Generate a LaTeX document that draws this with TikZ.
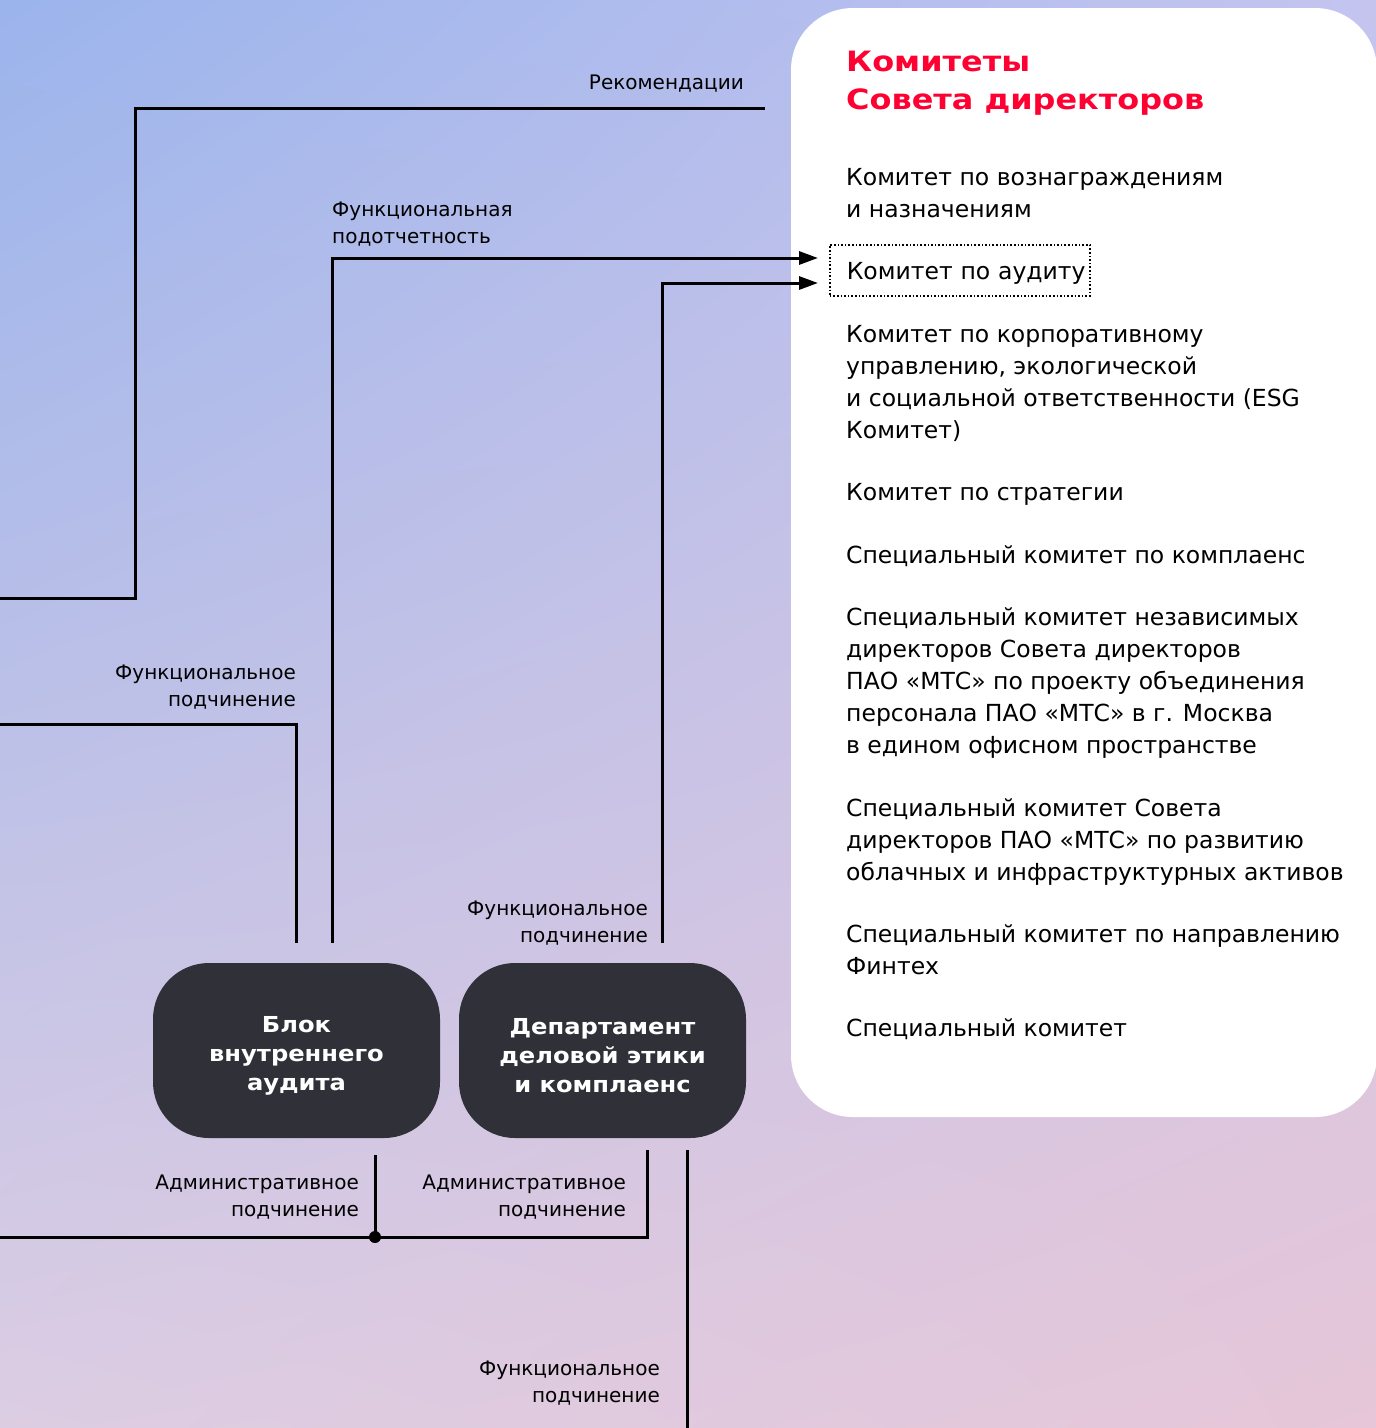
\documentclass[tikz,border=0pt]{standalone}
\usepackage{fontspec}
\setmainfont{DejaVu Sans}
\newfontfamily\widefont{DejaVu Sans}[FakeStretch=1.1]
\newfontfamily\titlefont{DejaVu Sans}[FakeStretch=1.14]
\usetikzlibrary{arrows.meta, shadings}

\definecolor{mtsred}{HTML}{FF0032}
\definecolor{unitgray}{HTML}{2F3038}
\definecolor{bgA}{HTML}{9BB4EC}
\definecolor{bgB}{HTML}{C4C4EF}
\definecolor{bgC}{HTML}{DCCDE3}
\definecolor{bgD}{HTML}{E6C6D8}

\newcommand{\fs}[2]{\fontsize{#1}{#2}\selectfont}
\newcommand{\topgap}{\rule{0pt}{26pt}}

\begin{document}
\begin{tikzpicture}[
    x=1pt, y=-1pt,
    link/.style={line width=3pt, black},
    tip/.style={-{Triangle[length=19pt,width=13pt]}},
    unitbox/.style={fill=unitgray, text=white, rounded corners=56pt, minimum width=287pt, minimum height=175pt, align=center,
      font=\widefont\bfseries\fs{22}{29}},
    lbl/.style={inner sep=0pt, align=right, font=\fs{20}{27}},
    item/.style={anchor=north west, inner sep=0pt, align=left, font=\fs{23.5}{32}},
    junction/.style={circle, fill=black, inner sep=0pt, minimum size=12pt}
  ]

    % Background and committee panel
    \useasboundingbox (0,0) rectangle (1376,1428);
    \shade[upper left=bgA, upper right=bgB, lower left=bgC, lower right=bgD] (0,0) rectangle (1376,1428);
    \fill[white, rounded corners=62pt] (791,8) rectangle (1377,1117);

    % Committees list
    \node[item, text=mtsred, font=\titlefont\bfseries\fs{28}{38}] (title) at (846,51) {Комитеты\\Совета директоров};
    \node[item] (c1) at (846,168.5) {Комитет по вознаграждениям\\и назначениям};
    \node[anchor=west, draw, line width=1.6pt, dash pattern=on 1.6pt off 2pt, inner xsep=17pt, inner ysep=0pt,
      minimum height=51pt, text width=226pt, text height=17pt, text depth=0pt, font=\fs{23.5}{32}]
      (auditcom) at (829,270.5) {\mbox{Комитет по аудиту}};
    \node[item] (c3) at (846,325.5) {Комитет по корпоративному\\управлению, экологической\\и социальной ответственности (ESG\\Комитет)};
    \node[item] (c4) at (846,483.5) {Комитет по стратегии};
    \node[item] (c5) at (846,545.5) {Специальный комитет по комплаенс};
    \node[item] (c6) at (846,607.5) {Специальный комитет независимых\\директоров Совета директоров\\ПАО «МТС» по проекту объединения\\персонала ПАО «МТС» в г. Москва\\в едином офисном пространстве};
    \node[item] (c7) at (846,798.5) {Специальный комитет Совета\\директоров ПАО «МТС» по развитию\\облачных и инфраструктурных активов};
    \node[item] (c8) at (846,924.5) {Специальный комитет по направлению\\Финтех};
    \node[item] (c9) at (846,1018.5) {Специальный комитет};

    % Units
    \node[unitbox] (audit) at (296.5,1050.5) {\topgap Блок\\внутреннего\\аудита};
    \node[unitbox] (ethics) at (602.5,1050.5) {\topgap Департамент\\деловой этики\\и комплаенс};

    % Free ends at the picture border
    \coordinate (recIn) at (0,598);
    \coordinate (recTurn) at (135,108);
    \coordinate (recOut) at (765,108);
    \coordinate (subIn) at (0,724);
    \coordinate (admIn) at (0,1237);
    \coordinate (botOut) at (687,1428);
    \node[junction] (jn) at (375,1237) {};

    % Connectors
    \draw[link] (recIn) -| (recTurn) -- (recOut);
    \draw[link] (subIn) -| ([yshift=20pt]audit.north);
    \draw[link, tip] ([xshift=35.5pt,yshift=20pt]audit.north) |- ([xshift=-11pt,yshift=12.5pt]auditcom.west);
    \draw[link, tip] ([xshift=59.5pt,yshift=20pt]ethics.north) |- ([xshift=-11pt,yshift=-12.5pt]auditcom.west);
    \draw[link] ([xshift=78.5pt,yshift=-17pt]audit.south) -- (jn.center);
    \draw[link] (admIn) -| ([xshift=44.5pt,yshift=-12pt]ethics.south);
    \draw[link] ([xshift=84.5pt,yshift=-12pt]ethics.south) -- (botOut);

    % Connector labels
    \node[lbl, anchor=north east] (lrec) at (744,74.5) {Рекомендации};
    \node[lbl, anchor=north west, align=left] (lrep) at (332,201.5) {Функциональная\\подотчетность};
    \node[lbl, anchor=north east] (lsub1) at (296,664.5) {Функциональное\\подчинение};
    \node[lbl, anchor=north east] (lsub2) at (648,900.5) {Функциональное\\подчинение};
    \node[lbl, anchor=north east] (ladm1) at (359,1174.5) {Административное\\подчинение};
    \node[lbl, anchor=north east] (ladm2) at (626,1174.5) {Административное\\подчинение};
    \node[lbl, anchor=north east] (lsub3) at (660,1360.5) {Функциональное\\подчинение};

  \end{tikzpicture}
\end{document}
